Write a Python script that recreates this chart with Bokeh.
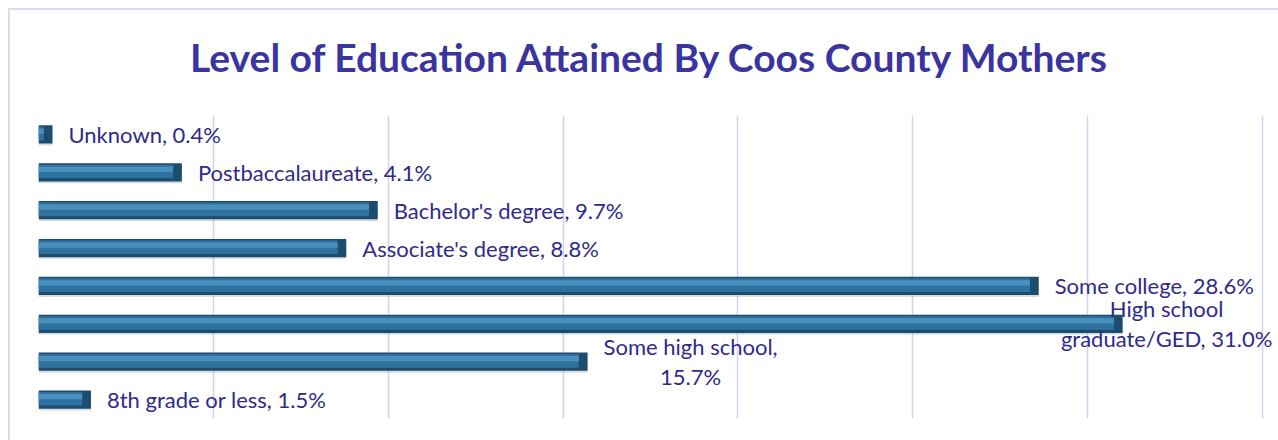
from bokeh.plotting import figure
from bokeh.layouts import column
from bokeh.models import Range1d, FactorRange, FixedTicker, ColumnDataSource
from bokeh.transform import dodge
from bokeh.core.properties import value
from bokeh.embed import file_html
from bokeh.resources import INLINE

# ---- data ----
title_text = "Level of Education Attained By Coos County Mothers"
categories = ["Unknown", "Postbaccalaureate", "Bachelor's degree", "Associate's degree",
              "Some college", "High school graduate/GED", "Some high school", "8th grade or less"]
percents = [0.4, 4.1, 9.7, 8.8, 28.6, 31.0, 15.7, 1.5]
label_texts = ["Unknown, 0.4%", "Postbaccalaureate, 4.1%", "Bachelor's degree, 9.7%",
               "Associate's degree, 8.8%", "Some college, 28.6%", "High school\ngraduate/GED, 31.0%",
               "Some high school,\n15.7%", "8th grade or less, 1.5%"]
x_ticks = [0, 5, 10, 15, 20, 25, 30, 35]

# ---- label styles ----
lab_align = ["left", "left", "left", "left", "left", "center", "center", "left"]
lab_xoff = [16, 16, 16, 16, 16, 44, 103, 16]
lab_yoff = [0, 0, 0, 0, 0, 0, 0, 0]

TEXT = "#2f2a8c"
GRID = "#d4d0f0"
W = 1268

x_range = Range1d(0, 35.4)

# ---- title strip ----
t = figure(width=W, height=105, output_backend="svg", toolbar_location=None,
           x_range=x_range, y_range=Range1d(0, 1),
           min_border_left=28, min_border_right=2, min_border_top=0, min_border_bottom=0)
t.outline_line_color = None
t.axis.visible = False
t.grid.visible = False
t.text(x=[x_ticks[-1] / 2], y=[0.5], text=[title_text], y_offset=-6,
       text_align="center", text_baseline="middle", text_font=value("Lato"),
       text_font_style="bold", text_font_size="39px", text_color="#3a33a0")

# ---- bars ----
src = ColumnDataSource(dict(cat=categories, pct=percents, label=label_texts,
                            align=lab_align, xoff=lab_xoff, yoff=lab_yoff,
                            inner=[max(v - 0.25, 0) for v in percents]))

p = figure(width=W, height=325, output_backend="svg", toolbar_location=None,
           x_range=x_range, y_range=FactorRange(factors=list(reversed(categories)), range_padding=0),
           min_border_left=28, min_border_right=2, min_border_bottom=22, min_border_top=0)
p.outline_line_color = None
p.background_fill_color = "white"
p.border_fill_color = "white"
p.xaxis.visible = False
p.yaxis.visible = False
p.ygrid.grid_line_color = None
p.xgrid.ticker = FixedTicker(ticks=x_ticks)
p.xgrid.grid_line_color = GRID
p.xgrid.grid_line_width = 1.5

# shadow
p.hbar(y=dodge("cat", -0.06, range=p.y_range), left=0, right="pct", height=0.46, source=src,
       fill_color="#8a8a8a", fill_alpha=0.3, line_color=None)
# base bar
p.hbar(y="cat", left=0, right="pct", height=0.48, source=src,
       fill_color="#1c4d6f", line_color=None)
# mid band
p.hbar(y=dodge("cat", 0.02, range=p.y_range), left=0, right="inner", height=0.36, source=src,
       fill_color="#2f72a0", line_color=None)
# highlight
p.hbar(y=dodge("cat", 0.08, range=p.y_range), left=0, right="inner", height=0.14, source=src,
       fill_color="#4a90bf", line_color=None)

p.text(x="pct", y="cat", text="label", source=src, x_offset="xoff", y_offset="yoff",
       text_align="align", text_baseline="middle", text_font=value("Lato"),
       text_font_size="22px", text_color=TEXT, text_line_height=1.1)

layout = column(t, p, spacing=0,
                styles={"border-left": "2px solid #dcd8f4", "border-top": "2px solid #dcd8f4",
                        "margin-left": "8px", "margin-top": "8px"})

open("out.html", "w").write(file_html(layout, INLINE))
